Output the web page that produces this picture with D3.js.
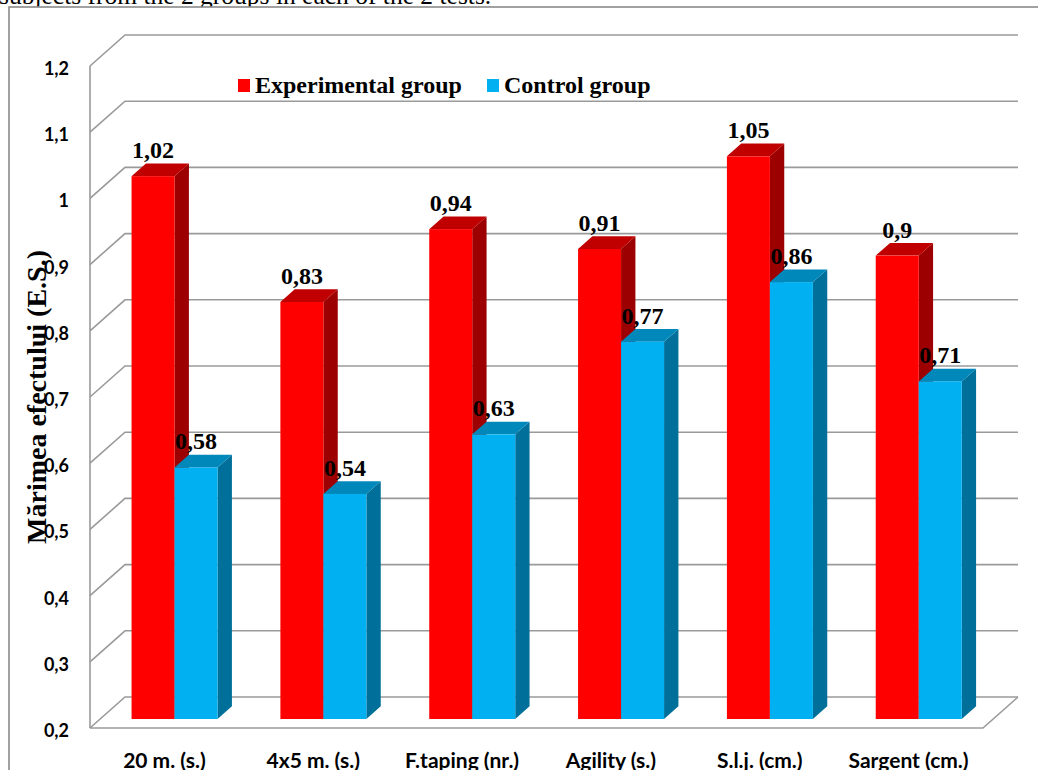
<!DOCTYPE html>
<html>
<head>
<meta charset="utf-8">
<script src="https://cdn.jsdelivr.net/npm/d3@7"></script>
<style>
  html, body { margin: 0; padding: 0; background: #fff; overflow: hidden; }
  svg { display: block; }
</style>
</head>
<body>
<svg id="chart" width="1038" height="770"></svg>
<script>
// Test categories and effect sizes for the two groups
const categories = ["20 m. (s.)", "4x5 m. (s.)", "F.taping (nr.)", "Agility (s.)", "S.l.j. (cm.)", "Sargent (cm.)"];
const experimental = [1.02, 0.83, 0.94, 0.91, 1.05, 0.9];
const control = [0.58, 0.54, 0.63, 0.77, 0.86, 0.71];
const seriesNames = ["Experimental group", "Control group"];
const tickValues = [0.2, 0.3, 0.4, 0.5, 0.6, 0.7, 0.8, 0.9, 1.0, 1.1, 1.2];
const yTitle = "Mărimea efectului (E.S.)";
const caption = "subjects from the 2 groups in each of the 2 tests.";

const svg = d3.select("#chart");

// Palette: front / top / side faces of each series
const faces = [
  { front: "#ff0000", top: "#c00000", side: "#9c0000" },
  { front: "#00b0f0", top: "#0088ba", side: "#006f99" }
];
const gridColor = "#9a9a9a";

// 3D layout: front plane scales plus a depth vector for the walls
const y = d3.scaleLinear().domain([0.2, 1.2]).range([728, 66]);
const x = d3.scaleBand().domain(categories).range([90, 983]).paddingInner(0).paddingOuter(0);
const depth = { dx: 35, dy: -31 };
const barFront = 0.29;   // depth fraction where bar fronts sit
const barDepth = 0.41;   // depth fraction occupied by a bar
const barW = 43;

const fmt = v => String(+v.toFixed(2)).replace(".", ",");

// Caption line of the surrounding document (runs off the top edge)
svg.append("text")
  .attr("x", -1).attr("y", 4)
  .attr("font-family", "Liberation Serif, Times New Roman, serif")
  .attr("font-size", 25.5)
  .attr("fill", "#000")
  .text(caption);

// Chart frame
svg.append("rect")
  .attr("x", 9).attr("y", 7).attr("width", 1040).attr("height", 780)
  .attr("fill", "#fff").attr("stroke", "#8a8a8a").attr("stroke-width", 1.6);

const grid = svg.append("g").attr("stroke", gridColor).attr("stroke-width", 1.6).attr("fill", "none");

// Floor
const x0 = x.range()[0], x1 = x.range()[1];
grid.append("path")
  .attr("d", `M${x0},${y(0.2)} L${x1},${y(0.2)} L${x1 + depth.dx},${y(0.2) + depth.dy}`);

// Left wall edge
grid.append("line")
  .attr("x1", x0).attr("x2", x0).attr("y1", y(1.2)).attr("y2", y(0.2));

// Gridlines: diagonal on the side wall, horizontal on the back wall
tickValues.forEach(t => {
  grid.append("path")
    .attr("d", `M${x0},${y(t)} L${x0 + depth.dx},${y(t) + depth.dy} L${x1 + depth.dx},${y(t) + depth.dy}`);
});

// Y tick labels
svg.append("g").selectAll("text")
  .data(tickValues)
  .join("text")
  .attr("x", 69)
  .attr("y", d => y(d) + 2)
  .attr("text-anchor", "end")
  .attr("dominant-baseline", "central")
  .attr("font-family", "Lato, Open Sans, sans-serif")
  .attr("font-weight", "bold")
  .attr("font-size", 18)
  .attr("fill", "#000")
  .text(d => fmt(d));

// Bars drawn as extruded boxes
const series = [experimental, control];
const ox = depth.dx * barFront, oy = depth.dy * barFront;
const bx = depth.dx * barDepth, by = depth.dy * barDepth;
const bars = svg.append("g");
categories.forEach((c, i) => {
  const cx = x(c) + x.bandwidth() / 2 + ox;
  series.forEach((vals, s) => {
    const left = cx - barW + s * barW;
    const right = left + barW;
    const top = y(vals[i]) + oy;
    const base = y(0.2) + oy;
    const g = bars.append("g");
    // side face
    g.append("path")
      .attr("d", `M${right},${top} L${right + bx},${top + by} L${right + bx},${base + by} L${right},${base} Z`)
      .attr("fill", faces[s].side);
    // top face
    g.append("path")
      .attr("d", `M${left},${top} L${left + bx},${top + by} L${right + bx},${top + by} L${right},${top} Z`)
      .attr("fill", faces[s].top);
    // front face
    g.append("rect")
      .attr("x", left).attr("y", top)
      .attr("width", barW).attr("height", base - top)
      .attr("fill", faces[s].front);
  });
});

// Value labels
const labels = svg.append("g")
  .attr("font-family", "Liberation Serif, Times New Roman, serif")
  .attr("font-weight", "bold")
  .attr("font-size", 24)
  .attr("fill", "#000")
  .attr("text-anchor", "middle");
categories.forEach((c, i) => {
  const cx = x(c) + x.bandwidth() / 2 + ox;
  series.forEach((vals, s) => {
    labels.append("text")
      .attr("x", cx - barW / 2 + s * barW)
      .attr("y", y(vals[i]) + oy - 18)
      .text(fmt(vals[i]));
  });
});

// Category labels
svg.append("g").selectAll("text")
  .data(categories)
  .join("text")
  .attr("x", d => x(d) + x.bandwidth() / 2)
  .attr("y", 768)
  .attr("text-anchor", "middle")
  .attr("font-family", "Lato, Open Sans, sans-serif")
  .attr("font-weight", "bold")
  .attr("font-size", 21)
  .attr("fill", "#000")
  .text(d => d);

// Legend
const legendX = [238, 487];
const legend = svg.append("g");
seriesNames.forEach((n, s) => {
  legend.append("rect")
    .attr("x", legendX[s]).attr("y", 79).attr("width", 12).attr("height", 13)
    .attr("fill", faces[s].front);
  legend.append("text")
    .attr("x", legendX[s] + 17).attr("y", 93)
    .attr("font-family", "Liberation Serif, Times New Roman, serif")
    .attr("font-weight", "bold")
    .attr("font-size", 24)
    .attr("fill", "#000")
    .text(n);
});

// Y axis title
svg.append("text")
  .attr("transform", "translate(46,397) rotate(-90)")
  .attr("text-anchor", "middle")
  .attr("font-family", "Liberation Serif, Times New Roman, serif")
  .attr("font-weight", "bold")
  .attr("font-size", 28)
  .attr("fill", "#000")
  .text(yTitle);
</script>
</body>
</html>
